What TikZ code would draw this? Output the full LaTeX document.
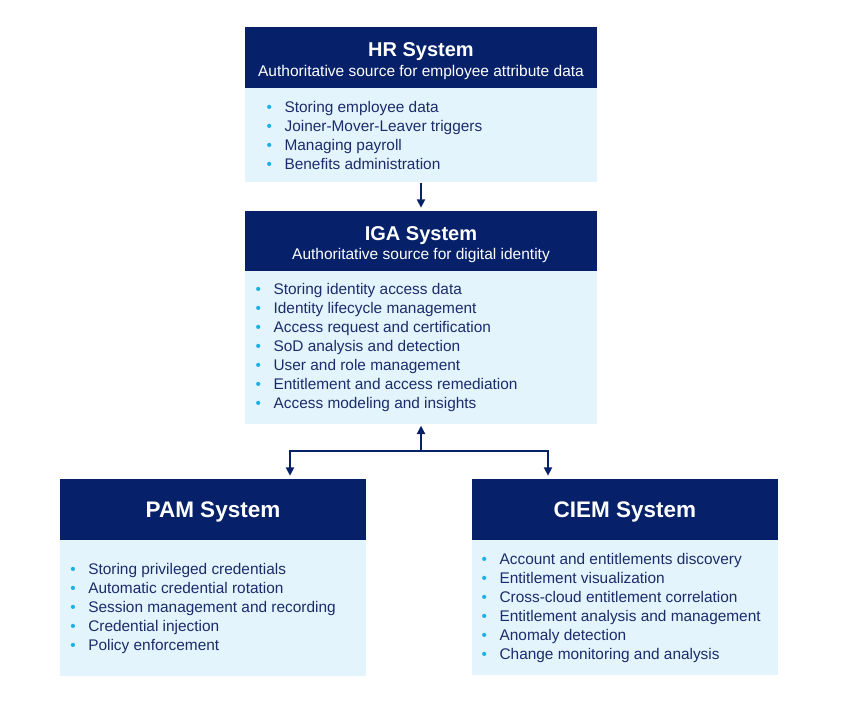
\documentclass[tikz,border=0pt]{standalone}
\usepackage{fontspec}
\setmainfont{Liberation Sans}
\usetikzlibrary{positioning,arrows.meta}
\definecolor{navy}{HTML}{06216A}
\definecolor{paleblue}{HTML}{E3F4FC}
\definecolor{dotblue}{HTML}{1DB0E6}
\definecolor{inkblue}{HTML}{1B2C6C}
\newcommand{\itm}[1]{\makebox[18pt][l]{\textcolor{dotblue}{\textbullet}}#1}
\begin{document}
\begin{tikzpicture}[x=1pt,y=-1pt,
    head/.style={fill=navy, text=white, inner sep=0pt, align=center,
        font=\fontsize{15.5pt}{19.5pt}\selectfont},
    body/.style={fill=paleblue, inner sep=0pt},
    items/.style={text=inkblue, align=left, inner sep=0pt,
        font=\fontsize{15.4pt}{19pt}\selectfont},
    arr/.style={navy, line width=2.6pt, -{Triangle[length=8.5pt,width=8pt]}}]
    \useasboundingbox (0,0) rectangle (844,702);
    % HR and IGA, stacked
    \node[head, minimum width=352pt, minimum height=61pt, text height=40.5pt, text depth=3pt] (hr) at (421,57.5)
        {{\bfseries\fontsize{20pt}{19.5pt}\selectfont HR System}\\Authoritative source for employee attribute data};
    \node[body, minimum width=352pt, minimum height=94pt, below=0pt of hr] (hrbody) {};
    \node[items, right=21.6pt of hrbody.west] (hrlist)
        {\itm{Storing employee data}\\\itm{Joiner-Mover-Leaver triggers}\\\itm{Managing payroll}\\\itm{Benefits administration}};
    \node[head, minimum width=352pt, minimum height=60pt, text height=40.5pt, text depth=3pt] (iga) at (421,241)
        {{\bfseries\fontsize{20pt}{19.5pt}\selectfont IGA System}\\Authoritative source for digital identity};
    \node[body, minimum width=352pt, minimum height=153pt, below=0pt of iga] (igabody) {};
    \node[items, right=10.6pt of igabody.west] (igalist)
        {\itm{Storing identity access data}\\\itm{Identity lifecycle management}\\\itm{Access request and certification}\\\itm{SoD analysis and detection}\\\itm{User and role management}\\\itm{Entitlement and access remediation}\\\itm{Access modeling and insights}};
    % PAM and CIEM, side by side
    \node[head, minimum width=306pt, minimum height=61pt, text height=16.4pt, text depth=0pt] (pam) at (213,509.5)
        {\bfseries\fontsize{22.5pt}{24pt}\selectfont PAM System};
    \node[body, minimum width=306pt, minimum height=136pt, below=0pt of pam] (pambody) {};
    \node[items, right=10.3pt of pambody.west] (pamlist)
        {\itm{Storing privileged credentials}\\\itm{Automatic credential rotation}\\\itm{Session management and recording}\\\itm{Credential injection}\\\itm{Policy enforcement}};
    \node[head, minimum width=306pt, minimum height=61pt, text height=16.4pt, text depth=0pt] (ciem) at (625,509.5)
        {\bfseries\fontsize{22.5pt}{24pt}\selectfont CIEM System};
    \node[body, minimum width=306pt, minimum height=135pt, below=0pt of ciem] (ciembody) {};
    \node[items, right=9.6pt of ciembody.west] (ciemlist)
        {\itm{Account and entitlements discovery}\\\itm{Entitlement visualization}\\\itm{Cross-cloud entitlement correlation}\\\itm{Entitlement analysis and management}\\\itm{Anomaly detection}\\\itm{Change monitoring and analysis}};
    % connectors
    \coordinate (fork) at (421,451); \coordinate (forkl) at (290,451); \coordinate (forkr) at (548,451);
    \draw[arr, shorten >=3pt] (hrbody) -- (iga);
    \draw[arr, shorten >=1pt] (fork) -- (igabody);
    \draw[arr, {Triangle[length=8.5pt,width=8pt]}-{Triangle[length=8.5pt,width=8pt]}, shorten <=3pt, shorten >=3pt, line join=miter]
        (forkl |- pam.north) -- (forkl) -- (forkr) -- (forkr |- ciem.north);
\end{tikzpicture}
\end{document}
